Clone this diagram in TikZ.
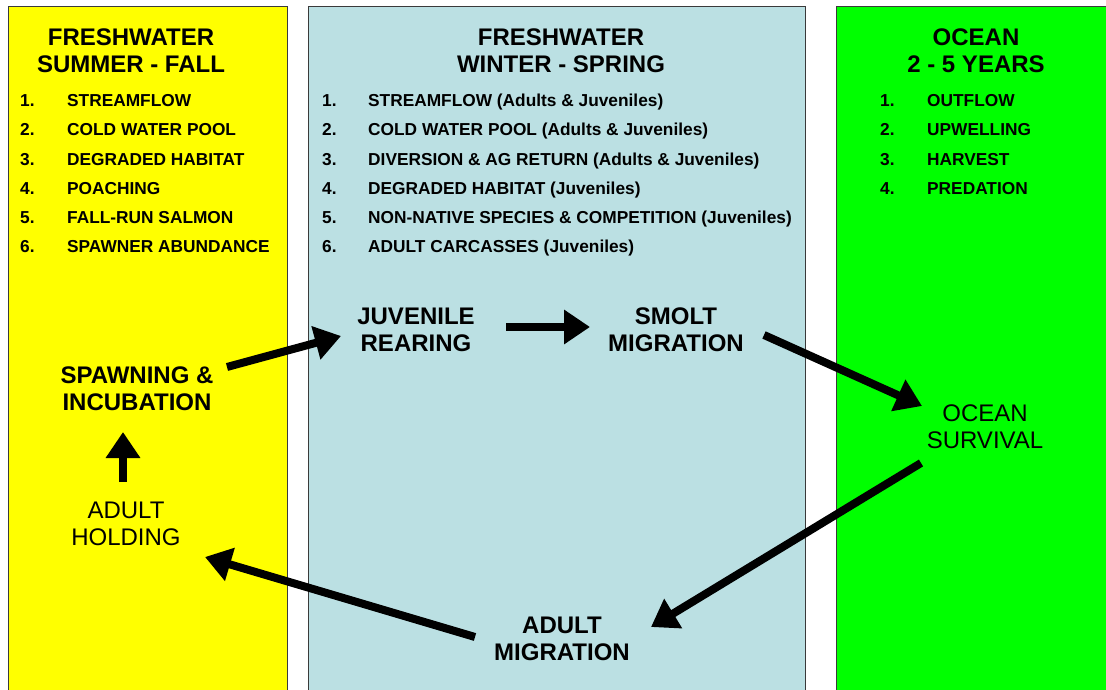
\documentclass[tikz,border=0pt]{standalone}
\usepackage{fontspec}
\setmainfont{Liberation Sans}
\usetikzlibrary{arrows.meta}
\definecolor{yel}{HTML}{FFFF00}
\definecolor{pale}{HTML}{BBE0E3}
\definecolor{grn}{HTML}{00FF00}
\definecolor{edgegray}{HTML}{3A3A3A}
\begin{document}
\begin{tikzpicture}[x=1pt,y=-1pt,
  panel/.style={draw=edgegray,line width=1pt},
  head/.style={font=\fontsize{24}{27}\selectfont\bfseries,align=center,inner sep=0pt},
  stage/.style={font=\fontsize{24}{27}\selectfont\bfseries,align=center,inner sep=0pt},
  stagereg/.style={font=\fontsize{24}{27}\selectfont,align=center,inner sep=0pt},
  item/.style={font=\fontsize{17.3}{20}\selectfont\bfseries,anchor=base west,inner sep=0pt},
  flow/.style={line width=8pt,-{Triangle[length=26pt,width=33pt]}}
]
\useasboundingbox (0,0) rectangle (1106,690);
\fill[white] (0,0) rectangle (1106,690);
% panels
\draw[panel,fill=yel] (8,7) rectangle (287.5,700);
\draw[panel,fill=pale] (308,7) rectangle (805,700);
\draw[panel,fill=grn] (836,7) rectangle (1115,700);
% headers
\node[head] (h1) at (131,51) {FRESHWATER\\SUMMER - FALL};
\node[head] (h2) at (561,51) {FRESHWATER\\WINTER - SPRING};
\node[head] (h3) at (976,51) {OCEAN\\2 - 5 YEARS};
% yellow list
\node[item] (y1n) at (20,107) {1.}; \node[item] (y1) at (67,107) {STREAMFLOW};
\node[item] (y2n) at (20,136) {2.}; \node[item] (y2) at (67,136) {COLD WATER POOL};
\node[item] (y3n) at (20,165) {3.}; \node[item] (y3) at (67,165) {DEGRADED HABITAT};
\node[item] (y4n) at (20,194) {4.}; \node[item] (y4) at (67,194) {POACHING};
\node[item] (y5n) at (20,223) {5.}; \node[item] (y5) at (67,223) {FALL-RUN SALMON};
\node[item] (y6n) at (20,252) {6.}; \node[item] (y6) at (67,252) {SPAWNER ABUNDANCE};
% blue list
\node[item] (b1n) at (322,107) {1.}; \node[item] (b1) at (368,107) {STREAMFLOW (Adults \& Juveniles)};
\node[item] (b2n) at (322,136) {2.}; \node[item] (b2) at (368,136) {COLD WATER POOL (Adults \& Juveniles)};
\node[item] (b3n) at (322,165) {3.}; \node[item] (b3) at (368,165) {DIVERSION \& AG RETURN (Adults \& Juveniles)};
\node[item] (b4n) at (322,194) {4.}; \node[item] (b4) at (368,194) {DEGRADED HABITAT (Juveniles)};
\node[item] (b5n) at (322,223) {5.}; \node[item] (b5) at (368,223) {NON-NATIVE SPECIES \& COMPETITION (Juveniles)};
\node[item] (b6n) at (322,252) {6.}; \node[item] (b6) at (368,252) {ADULT CARCASSES (Juveniles)};
% green list
\node[item] (g1n) at (880,107) {1.}; \node[item] (g1) at (927,107) {OUTFLOW};
\node[item] (g2n) at (880,136) {2.}; \node[item] (g2) at (927,136) {UPWELLING};
\node[item] (g3n) at (880,165) {3.}; \node[item] (g3) at (927,165) {HARVEST};
\node[item] (g4n) at (880,194) {4.}; \node[item] (g4) at (927,194) {PREDATION};
% stages
\node[stage] (spawn) at (137,388.5) {SPAWNING \&\\INCUBATION};
\node[stage] (juv) at (416,330) {JUVENILE\\REARING};
\node[stage] (smolt) at (676,330) {SMOLT\\MIGRATION};
\node[stagereg] (ocean) at (985,427) {OCEAN\\SURVIVAL};
\node[stage] (amig) at (562,639) {ADULT\\MIGRATION};
\node[stagereg] (hold) at (126,523.5) {ADULT\\HOLDING};
% arrow ends
\coordinate (s1) at (227,367); \coordinate (e1) at (341,336);
\coordinate (s2) at (506,327); \coordinate (e2) at (590,327);
\coordinate (s3) at (764,335); \coordinate (e3) at (922,406);
\coordinate (s4) at (921,463); \coordinate (e4) at (651,627);
\coordinate (s5) at (475,637); \coordinate (e5) at (205,557);
\coordinate (s6) at (123,482); \coordinate (e6) at (123,432);
\draw[flow] (s1) -- (e1);
\draw[flow] (s2) -- (e2);
\draw[flow] (s3) -- (e3);
\draw[flow] (s4) -- (e4);
\draw[flow] (s5) -- (e5);
\draw[flow] (s6) -- (e6);
\end{tikzpicture}
\end{document}
